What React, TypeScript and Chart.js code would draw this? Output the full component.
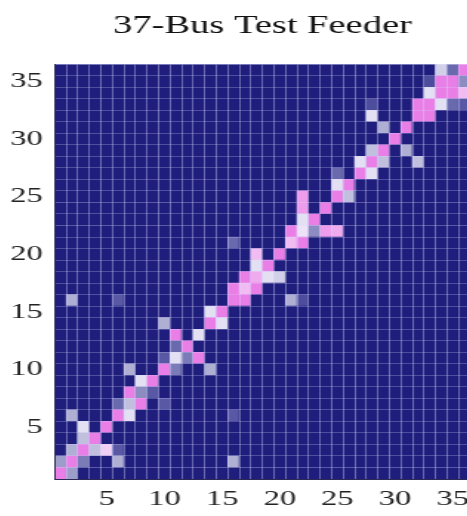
import { useEffect, useRef } from 'react';
import { Chart, registerables } from 'chart.js';

Chart.register(...registerables);

// ---- data ----
const busIds = [
  '1', '2', '3', '4', '5', '6', '7', '8', '9', '10', '11', '12',
  '13', '14', '15', '16', '17', '18', '19', '20', '21', '22', '23', '24',
  '25', '26', '27', '28', '29', '30', '31', '32', '33', '34', '35', '36',
];
const tickLabels = ['5', '10', '15', '20', '25', '30', '35'];
const chartTitle = '37-Bus Test Feeder';

// intensity of the diagonal cells (bus i, bus i), 0..1
const diagonalValues = [
  1, 1, 1, 1, 1, 1, 0.55, 0.4, 1, 1, 0.65, 1,
  0.65, 1, 1, 1, 0.8, 0.85, 1, 1, 0.8, 0.7, 1, 1,
  1, 1, 1, 1, 1, 1, 1, 1, 1, 1, 1, 1,
];

// off-diagonal cells: [column bus, row bus, intensity]
const offDiagonalCells: [number, number, number][] = [
  [2, 1, 0.45],
  [1, 2, 0.45], [3, 2, 0.35], [6, 2, 0.5], [16, 2, 0.5],
  [2, 3, 0.5], [4, 3, 0.55], [5, 3, 0.75], [6, 3, 0.25],
  [3, 4, 0.55],
  [3, 5, 0.65],
  [2, 6, 0.5], [7, 6, 0.65], [16, 6, 0.25],
  [6, 7, 0.3], [8, 7, 1], [10, 7, 0.25],
  [7, 8, 1], [9, 8, 0.25],
  [8, 9, 0.65],
  [7, 10, 0.5], [11, 10, 0.35], [14, 10, 0.5],
  [10, 11, 0.25], [12, 11, 0.35], [13, 11, 1],
  [11, 12, 0.3],
  [11, 13, 1],
  [10, 14, 0.5], [15, 14, 0.65],
  [14, 15, 0.65],
  [2, 16, 0.5], [6, 16, 0.25], [17, 16, 1], [21, 16, 0.5], [22, 16, 0.2],
  [16, 17, 1], [18, 17, 1],
  [17, 18, 1], [19, 18, 0.65], [20, 18, 0.6],
  [18, 19, 0.65],
  [18, 20, 0.8],
  [16, 21, 0.3], [22, 21, 1],
  [21, 22, 1], [23, 22, 0.4], [24, 22, 0.9], [25, 22, 0.85],
  [22, 23, 0.65],
  [22, 24, 0.9],
  [22, 25, 0.9], [26, 25, 0.55],
  [25, 26, 0.65],
  [25, 27, 0.3], [28, 27, 0.65],
  [27, 28, 0.65], [29, 28, 0.55], [32, 28, 0.55],
  [28, 29, 0.55], [31, 29, 0.5],
  [29, 31, 0.5],
  [28, 32, 0.65], [33, 32, 1],
  [28, 33, 0.2], [32, 33, 1], [34, 33, 0.65], [35, 33, 0.3], [36, 33, 0.25],
  [33, 34, 0.65], [35, 34, 1], [36, 34, 0.8],
  [33, 35, 0.2], [34, 35, 1], [36, 35, 0.4],
  [34, 36, 0.6], [35, 36, 0.3],
];

// ---- styles ----
const colorStops: [number, number[]][] = [
  [0, [31, 30, 124]],
  [0.25, [88, 88, 165]],
  [0.4, [140, 140, 192]],
  [0.55, [192, 192, 222]],
  [0.68, [236, 234, 248]],
  [0.82, [242, 180, 240]],
  [1, [232, 126, 230]],
];

function levelColor(v: number): string {
  for (let i = 1; i < colorStops.length; i++) {
    const [p1, c1] = colorStops[i];
    const [p0, c0] = colorStops[i - 1];
    if (v <= p1) {
      const t = (v - p0) / (p1 - p0);
      const c = c0.map((a, k) => Math.round(a + (c1[k] - a) * t));
      return `rgb(${c[0]},${c[1]},${c[2]})`;
    }
  }
  const last = colorStops[colorStops.length - 1][1];
  return `rgb(${last[0]},${last[1]},${last[2]})`;
}

const SCALE_X = 1.48;
const CANVAS_W = 322;
const CANVAS_H = 520;
const VIEW_W = 467;
const VIEW_H = 516;
const FONT = "'Liberation Serif', 'Times New Roman', serif";

export default function App() {
  const ref = useRef<HTMLCanvasElement | null>(null);

  useEffect(() => {
    document.body.style.margin = '0';
    const canvas = ref.current;
    if (!canvas) return;

    const n = busIds.length;
    const matrix: number[][] = busIds.map(() => busIds.map(() => 0));
    diagonalValues.forEach((v, i) => { matrix[i][i] = v; });
    offDiagonalCells.forEach(([c, r, v]) => { matrix[r - 1][c - 1] = v; });

    const datasets = busIds.map((rowLabel, ri) => {
      const r = Number(rowLabel);
      return {
        label: 'row ' + rowLabel,
        data: busIds.map(() => [r - 0.5, r + 0.5]),
        backgroundColor: busIds.map((_, ci) => levelColor(matrix[ri][ci])),
        borderWidth: 0,
        barPercentage: 1,
        categoryPercentage: 1,
        grouped: false,
      };
    });

    const chart = new Chart(canvas, {
      type: 'bar',
      data: { labels: busIds, datasets: datasets as any },
      options: {
        animation: false,
        responsive: false,
        events: [],
        layout: { padding: { left: 0, right: 3, top: 0, bottom: 1 } },
        plugins: {
          legend: { display: false },
          tooltip: { enabled: false },
          title: {
            display: true,
            text: chartTitle,
            fullSize: false,
            color: '#111',
            font: { family: FONT, size: 26, weight: 'normal' },
            padding: { top: 11, bottom: 22 },
          },
        },
        scales: {
          x: {
            type: 'category',
            offset: true,
            grid: { offset: true, z: 1, color: 'rgba(215,215,255,0.4)', lineWidth: 1, drawTicks: false },
            border: { display: true, z: 2, color: '#2a2a55' },
            ticks: {
              autoSkip: false,
              maxRotation: 0,
              padding: 6.8,
              color: '#222',
              font: { family: FONT, size: 22 },
              callback: function (this: any, value: any) {
                const lab = this.getLabelForValue(value);
                return tickLabels.includes(lab) ? lab : '';
              },
            },
          },
          y: {
            type: 'linear',
            min: 0.5,
            max: n + 0.5,
            afterBuildTicks: (scale: any) => {
              scale.ticks = busIds.map((b) => ({ value: Number(b) }));
            },
            grid: { offset: true, z: 1, color: 'rgba(215,215,255,0.27)', lineWidth: 1, drawTicks: false },
            border: { display: true, z: 2, color: '#2a2a55' },
            ticks: {
              autoSkip: false,
              padding: 8.2,
              color: '#222',
              font: { family: FONT, size: 22 },
              callback: (value: any) => {
                const lab = String(value);
                return tickLabels.includes(lab) ? lab : '';
              },
            },
          },
        },
      },
    });

    return () => chart.destroy();
  }, []);

  return (
    <div style={{ width: VIEW_W, height: VIEW_H, overflow: 'hidden', background: '#fff' }}>
      <canvas
        ref={ref}
        width={CANVAS_W}
        height={CANVAS_H}
        style={{
          display: 'block',
          width: CANVAS_W,
          height: CANVAS_H,
          transform: `translateX(-2px) scaleX(${SCALE_X})`,
          transformOrigin: '0 0',
        }}
      />
    </div>
  );
}
